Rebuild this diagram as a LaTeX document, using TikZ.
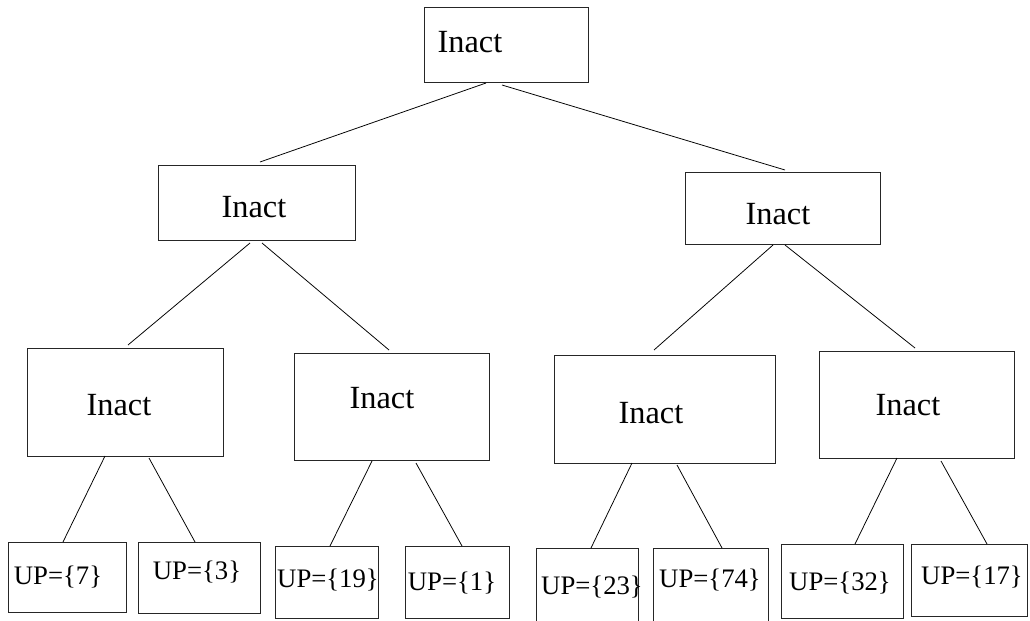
\documentclass[tikz,border=0pt]{standalone}
\usepackage{fontspec}
\setmainfont{Liberation Serif}
\usetikzlibrary{calc}

\begin{document}
\begin{tikzpicture}[x=0.025cm, y=-0.025cm,
    frame/.style={draw=black!85, line width=0.6pt, inner sep=0pt, outer sep=0pt},
    inact/.style={inner sep=0pt, font=\fontsize{23}{27}\selectfont},
    uptag/.style={inner sep=0pt, font=\fontsize{19}{22}\selectfont},
    branch/.style={draw=black, line width=0.55pt}]

    % Page frame (pixel grid of the figure)
    \useasboundingbox (0,0) rectangle (1030,620);
    \clip (0,0) rectangle (1030,620);

    % Root
    \node[frame, minimum width=4.1cm, minimum height=1.875cm] (root) at (506,44.5) {};
    \node[inact] (rootT) at (470,42) {Inact};

    % Second level
    \node[frame, minimum width=4.925cm, minimum height=1.875cm] (inL) at (256.5,202.5) {};
    \node[inact] (inLT) at (254,207) {Inact};
    \node[frame, minimum width=4.875cm, minimum height=1.8cm] (inR) at (782.5,208) {};
    \node[inact] (inRT) at (778,214) {Inact};

    % Third level
    \node[frame, minimum width=4.9cm, minimum height=2.7cm] (inLL) at (125,402) {};
    \node[inact] (inLLT) at (119,405) {Inact};
    \node[frame, minimum width=4.875cm, minimum height=2.675cm] (inLR) at (391.5,406.5) {};
    \node[inact] (inLRT) at (382,398) {Inact};
    \node[frame, minimum width=5.525cm, minimum height=2.7cm] (inRL) at (664.5,409) {};
    \node[inact] (inRLT) at (651,413) {Inact};
    \node[frame, minimum width=4.875cm, minimum height=2.675cm] (inRR) at (916.5,404.5) {};
    \node[inact] (inRRT) at (908,405) {Inact};

    % Leaves
    \node[frame, minimum width=2.95cm, minimum height=1.75cm] (up1) at (67,577) {};
    \node[uptag] (up1T) at (58,577) {UP=\{7\}};
    \node[frame, minimum width=3.05cm, minimum height=1.775cm] (up2) at (199,577.5) {};
    \node[uptag] (up2T) at (197,572) {UP=\{3\}};
    \node[frame, minimum width=2.575cm, minimum height=1.8cm] (up3) at (326.5,582) {};
    \node[uptag] (up3T) at (328,580) {UP=\{19\}};
    \node[frame, minimum width=2.6cm, minimum height=1.8cm] (up4) at (457,582) {};
    \node[uptag] (up4T) at (452,583) {UP=\{1\}};
    \node[frame, minimum width=2.55cm, minimum height=1.925cm] (up5) at (587,586.5) {};
    \node[uptag] (up5T) at (592,587) {UP=\{23\}};
    \node[frame, minimum width=2.875cm, minimum height=1.925cm] (up6) at (710.5,586.5) {};
    \node[uptag] (up6T) at (710,580) {UP=\{74\}};
    \node[frame, minimum width=3.05cm, minimum height=1.85cm] (up7) at (842,581) {};
    \node[uptag] (up7T) at (840,583) {UP=\{32\}};
    \node[frame, minimum width=2.9cm, minimum height=1.8cm] (up8) at (969,580) {};
    \node[uptag] (up8T) at (972,577) {UP=\{17\}};

    % Branches (hand drawn, so they stop a little off the boxes)
    \draw[branch] ($(root.south)+(-20,1)$) -- ($(inL.north)+(3.5,-3)$);
    \draw[branch] ($(root.south)+(-4,3)$) -- ($(inR.north)+(2.5,-2)$);

    \draw[branch] ($(inL.south)+(-6.5,3)$) -- ($(inLL.north)+(3,-3)$);
    \draw[branch] ($(inL.south)+(5.5,3)$) -- ($(inLR.north)+(-2.5,-3)$);
    \draw[branch] ($(inR.south)+(-9.5,1)$) -- ($(inRL.north)+(-10.5,-5)$);
    \draw[branch] ($(inR.south)+(2.5,1)$) -- ($(inRR.north)+(-1.5,-3)$);

    \draw[branch] ($(inLL.south)+(-20,0)$) -- ($(up1.north)+(-4,0)$);
    \draw[branch] ($(inLL.south)+(24,2)$) -- ($(up2.north)+(-4,0)$);
    \draw[branch] ($(inLR.south)+(-19.5,1)$) -- ($(up3.north)+(3.5,0)$);
    \draw[branch] ($(inLR.south)+(24.5,3)$) -- ($(up4.north)+(5,0)$);
    \draw[branch] ($(inRL.south)+(-32.5,0)$) -- ($(up5.north)+(4,0)$);
    \draw[branch] ($(inRL.south)+(12.5,2)$) -- ($(up6.north)+(11.5,0)$);
    \draw[branch] ($(inRR.south)+(-19.5,0)$) -- ($(up7.north)+(13,0)$);
    \draw[branch] ($(inRR.south)+(24.5,3)$) -- ($(up8.north)+(18,0)$);

\end{tikzpicture}
\end{document}
